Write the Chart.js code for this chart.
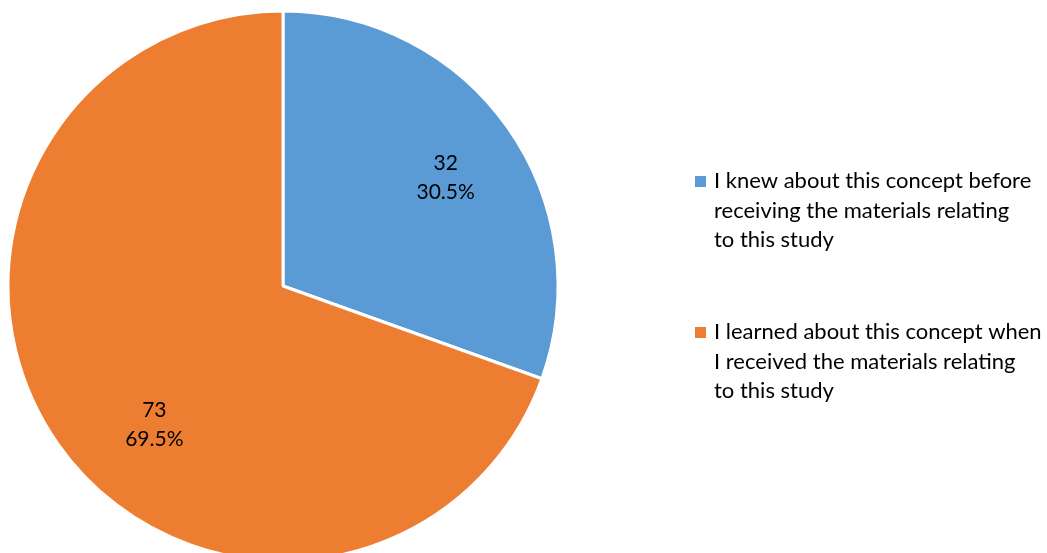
<!DOCTYPE html>
<html>
<head>
<meta charset="utf-8">
<script src="https://cdn.jsdelivr.net/npm/chart.js@4/dist/chart.umd.min.js"></script>
<style>
  html, body { margin: 0; padding: 0; background: #fff; }
  #wrap { position: relative; width: 1047px; height: 553px; }
</style>
</head>
<body>
<div id="wrap"><canvas id="pie"></canvas></div>
<script>
const categories = [
  ['I knew about this concept before', 'receiving the materials relating', 'to this study'],
  ['I learned about this concept when', 'I received the materials relating', 'to this study'],
];
const counts = [32, 73];
const colors = ['#5B9BD5', '#ED7D31'];

const FONT = 'Lato, "Open Sans", sans-serif';

// value + percentage inside each slice
const sliceLabels = {
  id: 'sliceLabels',
  afterDatasetsDraw(chart, args, opts) {
    const { ctx } = chart;
    const meta = chart.getDatasetMeta(0);
    const total = counts.reduce((a, b) => a + b, 0);
    ctx.save();
    ctx.font = `${opts.size}px ${FONT}`;
    ctx.fillStyle = '#000';
    ctx.textAlign = 'center';
    ctx.textBaseline = 'middle';
    meta.data.forEach((arc, i) => {
      const { x, y, startAngle, endAngle, outerRadius } = arc.getProps(['x', 'y', 'startAngle', 'endAngle', 'outerRadius'], true);
      const mid = (startAngle + endAngle) / 2;
      const r = outerRadius * opts.distance;
      const nudge = opts.nudge[i] || [0, 0];
      const cx = x + Math.cos(mid) * r + nudge[0];
      const cy = y + Math.sin(mid) * r + nudge[1];
      const pct = (counts[i] / total * 100).toFixed(1) + '%';
      ctx.fillText(String(counts[i]), cx, cy - opts.lineHeight / 2);
      ctx.fillText(pct, cx, cy + opts.lineHeight / 2);
    });
    ctx.restore();
  },
};

// legend at the right with wrapped lines
const sideLegend = {
  id: 'sideLegend',
  afterDraw(chart, args, opts) {
    const { ctx } = chart;
    ctx.save();
    ctx.font = `${opts.size}px ${FONT}`;
    ctx.textBaseline = 'alphabetic';
    ctx.textAlign = 'left';
    categories.forEach((lines, i) => {
      const top = opts.top + i * opts.itemGap;
      ctx.fillStyle = colors[i];
      ctx.fillRect(opts.left, top - opts.box - 1, opts.box, opts.box);
      ctx.fillStyle = '#000';
      lines.forEach((line, j) => {
        ctx.fillText(line, opts.left + opts.textOffset, top + j * opts.lineHeight);
      });
    });
    ctx.restore();
  },
};

new Chart(document.getElementById('pie'), {
  type: 'pie',
  data: {
    labels: categories,
    datasets: [{
      data: counts,
      backgroundColor: colors,
      borderColor: '#fff',
      borderWidth: 3,
      radius: 275,
      clip: false,
    }],
  },
  options: {
    responsive: true,
    maintainAspectRatio: false,
    animation: false,
    layout: { padding: { left: 9, right: 490, top: 19, bottom: 0 } },
    plugins: {
      legend: { display: false },
      tooltip: { enabled: false },
      sliceLabels: { size: 21, lineHeight: 29, distance: 0.71, nudge: [[3, 4], [31, 26]] },
      sideLegend: { left: 695, top: 188, box: 11, textOffset: 19, size: 22, lineHeight: 29.5, itemGap: 151 },
    },
  },
  plugins: [sliceLabels, sideLegend],
});
</script>
</body>
</html>
